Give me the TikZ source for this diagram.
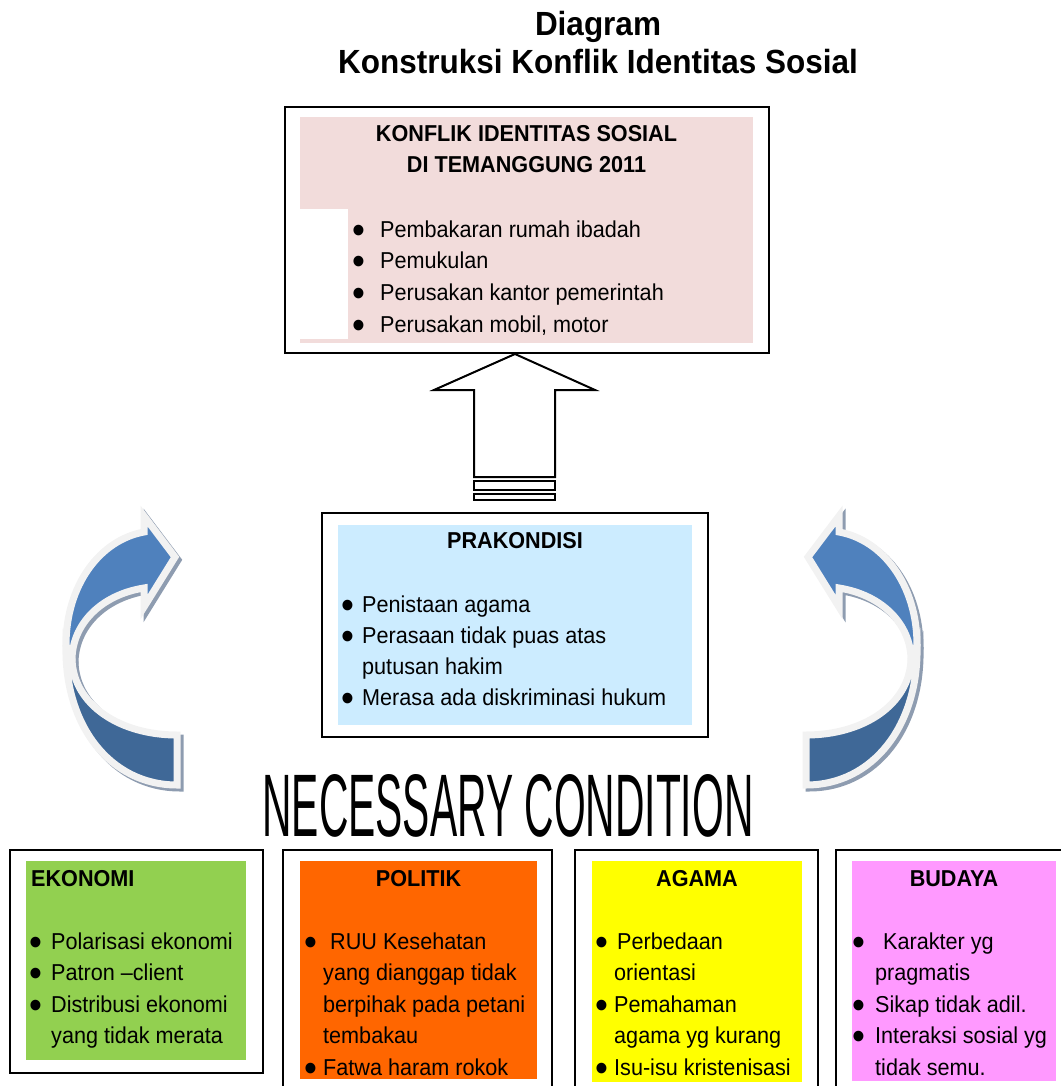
\documentclass[tikz,border=0pt]{standalone}
\usepackage{fontspec}
\setmainfont{Liberation Sans}[FakeStretch=0.94]
\newfontfamily\widefont{Liberation Sans}[FakeStretch=1.35]
\usepackage{graphicx}
\usetikzlibrary{positioning, calc}

\definecolor{konflikpink}{HTML}{F2DCDB}
\definecolor{prablue}{HTML}{CCECFF}
\definecolor{ekogreen}{HTML}{92D050}
\definecolor{polorange}{HTML}{FF6600}
\definecolor{agayellow}{HTML}{FFFF00}
\definecolor{budpink}{HTML}{FF99FF}
\definecolor{arrlight}{HTML}{4F81BD}
\definecolor{arrdark}{HTML}{3F6897}
\definecolor{arredge}{HTML}{F2F2F2}
\definecolor{arrshade}{HTML}{8E9CB0}

\newcommand{\bul}[1]{\makebox[#1][l]{\hspace*{-2pt}\smash{\raisebox{-6pt}{\scalebox{1.7}{\textbullet}}}}}
\newcommand{\cont}[1]{\hspace*{#1}}

% curved arrow, drawn for the left side; #1 = shadow offset in x
\newcommand{\curvarrow}[1]{%
  \begin{scope}[shift={(#1,3)}]
    \filldraw[arrshade, line width=7pt]
      (66,645) .. controls (64,725) and (110,785) .. (177,785) -- (177,735)
      .. controls (120,735) and (74,705) .. (72,660) -- cycle;
    \filldraw[arrshade, line width=7pt]
      (144,532) -- (144,516) -- (175,557) -- (144,607) -- (144,588)
      .. controls (100,595) and (72,625) .. (72,660) -- (66,645)
      .. controls (66,585) and (100,540) .. (144,532) -- cycle;
  \end{scope}
  \filldraw[fill=arrdark, draw=arredge, line width=7pt]
    (66,645) .. controls (64,725) and (110,785) .. (177,785) -- (177,735)
    .. controls (120,735) and (74,705) .. (72,660) -- cycle;
  \filldraw[fill=arrlight, draw=arredge, line width=7pt]
    (144,532) -- (144,516) -- (175,557) -- (144,607) -- (144,588)
    .. controls (100,595) and (72,625) .. (72,660) -- (66,645)
    .. controls (66,585) and (100,540) .. (144,532) -- cycle;
}

\begin{document}
\begin{tikzpicture}[x=1pt, y=-1pt,
    framebox/.style={draw, line width=2pt, inner sep=0pt},
    hollowarrow/.style={draw, line width=2pt, fill=white},
    titletext/.style={font=\fontsize{33.5}{38}\selectfont\bfseries, inner sep=0pt, anchor=base},
    headtext/.style={font=\fontsize{23}{31}\selectfont\bfseries, inner sep=0pt, anchor=base},
    itemtext/.style={font=\fontsize{23}{31.5}\selectfont, inner sep=0pt, anchor=base west}]
\useasboundingbox (0,0) rectangle (1060,1086);

% title
\node[titletext] (title-1) at (598,36) {Diagram};
\node[titletext] (title-2) at (598,74) {Konstruksi Konflik Identitas Sosial};

% frames
\node[framebox, minimum width=484pt, minimum height=246pt] (konflik) at (527,230) {};
\node[framebox, minimum width=386pt, minimum height=224pt] (prakondisi) at (515,625) {};
\node[framebox, minimum width=253pt, minimum height=223pt] (ekonomi) at (136.5,961.5) {};
\node[framebox, minimum width=269pt, minimum height=250pt] (politik) at (417.5,975) {};
\node[framebox, minimum width=243pt, minimum height=250pt] (agama) at (696.5,975) {};
\node[framebox, minimum width=234pt, minimum height=250pt] (budaya) at (953,975) {};

% coloured fields
\fill[konflikpink] (300,117) rectangle (753,343);
\fill[white] (300,209) rectangle (348,339);
\fill[prablue] (338,525) rectangle (692,725);
\fill[ekogreen] (26,861) rectangle (246,1060);
\fill[polorange] (300,861) rectangle (537,1079);
\fill[agayellow] (592,861) rectangle (802,1082);
\fill[budpink] (852,861) rectangle (1056,1081);

% konflik
\node[headtext] (konflik-h1) at (526.5,141.7) {KONFLIK IDENTITAS SOSIAL};
\node[headtext] (konflik-h2) at (526.5,172.7) {DI TEMANGGUNG 2011};
\foreach \txt [count=\i] in {{\bul{26pt}Pembakaran rumah ibadah},
    {\bul{26pt}Pemukulan}, {\bul{26pt}Perusakan kantor pemerintah},
    {\bul{26pt}Perusakan mobil, motor}}
  \node[itemtext] (konflik-\i) at (354,{237+31.7*(\i-1)}) {\txt};

% up arrow
\coordinate (tip) at (prakondisi.north |- konflik.south);
\draw[hollowarrow] (tip) -- ++(80,36) -- ++(-40,0) -- ++(0,87) -- ++(-81,0)
  -- ++(0,-87) -- ++(-40,0) -- cycle;
\draw[hollowarrow] ($(tip)+(-41,127)$) rectangle ++(81,9);
\draw[hollowarrow] ($(tip)+(-41,140)$) rectangle ++(81,6);

% prakondisi
\node[headtext] (prakondisi-h) at (515,548) {PRAKONDISI};
\foreach \txt [count=\i] in {{\bul{19pt}Penistaan agama},
    {\bul{19pt}Perasaan tidak puas atas}, {\cont{19pt}putusan hakim},
    {\bul{19pt}Merasa ada diskriminasi hukum}}
  \node[itemtext] (prakondisi-\i) at (343,{612+31.3*(\i-1)}) {\txt};

% curved arrows
\curvarrow{3}
\begin{scope}[xshift=983pt, xscale=-1]
  \curvarrow{-3}
\end{scope}

\node[inner sep=0pt] (necessary) at (508,806)
  {\resizebox{491pt}{62pt}{\widefont NECESSARY CONDITION}};

% ekonomi
\node[headtext, anchor=base west] (ekonomi-h) at (31,886) {EKONOMI};
\foreach \txt [count=\i] in {{\bul{20pt}Polarisasi ekonomi},
    {\bul{20pt}Patron --client}, {\bul{20pt}Distribusi ekonomi},
    {\cont{20pt}yang tidak merata}}
  \node[itemtext] (ekonomi-\i) at (31,{949+31.5*(\i-1)}) {\txt};

% politik
\node[headtext] (politik-h) at (418.5,886) {POLITIK};
\foreach \txt [count=\i] in {{\bul{24pt}RUU Kesehatan},
    {\cont{17pt}yang dianggap tidak}, {\cont{17pt}berpihak pada petani},
    {\cont{17pt}tembakau}, {\bul{17pt}Fatwa haram rokok}}
  \node[itemtext] (politik-\i) at (306,{949+31.5*(\i-1)}) {\txt};

% agama
\node[headtext] (agama-h) at (697,886) {AGAMA};
\foreach \txt [count=\i] in {{\bul{20pt}Perbedaan},
    {\cont{17pt}orientasi}, {\bul{17pt}Pemahaman},
    {\cont{17pt}agama yg kurang}, {\bul{17pt}Isu-isu kristenisasi}}
  \node[itemtext] (agama-\i) at (597,{949+31.5*(\i-1)}) {\txt};

% budaya
\node[headtext] (budaya-h) at (954,886) {BUDAYA};
\foreach \txt [count=\i] in {{\bul{29pt}Karakter yg},
    {\cont{21pt}pragmatis}, {\bul{21pt}Sikap tidak adil.},
    {\bul{21pt}Interaksi sosial yg}, {\cont{21pt}tidak semu.}}
  \node[itemtext] (budaya-\i) at (854,{949+31.5*(\i-1)}) {\txt};
\end{tikzpicture}
\end{document}
